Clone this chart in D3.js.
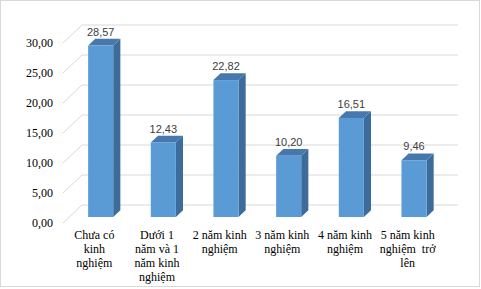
<!DOCTYPE html>
<html>
<head>
<meta charset="utf-8">
<script src="https://cdn.jsdelivr.net/npm/d3@7"></script>
<style>
  body { margin: 0; background: #fff; }
  svg { display: block; }
  .serif { font-family: "Liberation Serif", "Times New Roman", serif; font-size: 12px; fill: #000; }
  .sans { font-family: "Liberation Sans", Arial, sans-serif; font-size: 11px; fill: #404040; }
</style>
</head>
<body>
<script>
'use strict'

// data
let categories = [
  ["Chưa có", "kinh", "nghiệm"],
  ["Dưới 1", "năm và 1", "năm kinh", "nghiệm"],
  ["2 năm kinh", "nghiệm"],
  ["3 năm kinh", "nghiệm"],
  ["4 năm kinh", "nghiệm"],
  ["5 năm kinh", "nghiệm  trở", "lên"]
]
let values = [28.57, 12.43, 22.82, 10.20, 16.51, 9.46]
let yTicks = [0, 5, 10, 15, 20, 25, 30]

let width = 481, height = 289
// depth of the 3d box (back wall offset)
let depthX = 19, depthY = -18
let barFront = 1/3, barBack = 0.71

let svg = d3.select("body").append("svg")
  .attr("width", width)
  .attr("height", height)

svg.append("rect")
  .attr("x", 0.5).attr("y", 0.5)
  .attr("width", width - 2).attr("height", height - 3)
  .attr("fill", "#fff")
  .attr("stroke", "#d9d9d9")

let x = d3.scaleBand()
  .domain(d3.range(values.length))
  .range([63, 439])
  .paddingInner(0.6)
  .paddingOuter(0.3)

let y = d3.scaleLinear()
  .domain([0, 30])
  .range([223, 43])

function px(xv, d) { return xv + depthX * d }
function py(v, d) { return y(v) + depthY * d }

let fmt = v => d3.format(".2f")(v).replace(".", ",")

// back wall grid lines
svg.append("g").selectAll("line")
  .data(yTicks)
  .enter().append("line")
  .attr("x1", px(63, 1)).attr("x2", px(439, 1))
  .attr("y1", d => py(d, 1)).attr("y2", d => py(d, 1))
  .attr("stroke", "#d9d9d9")

// side wall lines
svg.append("g").selectAll("line")
  .data(yTicks)
  .enter().append("line")
  .attr("x1", 63).attr("x2", px(63, 1))
  .attr("y1", d => y(d)).attr("y2", d => py(d, 1))
  .attr("stroke", "#d9d9d9")

// y axis labels
let yAxis = d3.axisLeft(y)
  .tickValues(yTicks)
  .tickSize(0)
  .tickPadding(3)
  .tickFormat(fmt)

let gy = svg.append("g")
  .attr("transform", "translate(56,0)")
  .call(yAxis)
  .attr("font-family", null)
  .attr("font-size", null)
gy.select(".domain").remove()
gy.selectAll("text").attr("class", "serif").attr("fill", null)

// bars
let bars = svg.append("g").selectAll("g")
  .data(values)
  .enter().append("g")

bars.append("path")   // side
  .attr("fill", "#3d6c9b")
  .attr("d", (d, i) => {
    let xr = x(i) + x.bandwidth()
    return "M" + px(xr, barFront) + "," + py(d, barFront) +
      "L" + px(xr, barBack) + "," + py(d, barBack) +
      "L" + px(xr, barBack) + "," + py(0, barBack) +
      "L" + px(xr, barFront) + "," + py(0, barFront) + "Z"
  })

bars.append("path")   // top
  .attr("fill", "#4678ad")
  .attr("d", (d, i) => {
    let xl = x(i), xr = x(i) + x.bandwidth()
    return "M" + px(xl, barFront) + "," + py(d, barFront) +
      "L" + px(xl, barBack) + "," + py(d, barBack) +
      "L" + px(xr, barBack) + "," + py(d, barBack) +
      "L" + px(xr, barFront) + "," + py(d, barFront) + "Z"
  })

bars.append("rect")   // front
  .attr("fill", "#5b9bd5")
  .attr("x", (d, i) => px(x(i), barFront))
  .attr("y", d => py(d, barFront))
  .attr("width", x.bandwidth())
  .attr("height", d => py(0, barFront) - py(d, barFront))

// value labels
svg.append("g").selectAll("text")
  .data(values)
  .enter().append("text")
  .attr("class", "sans")
  .attr("x", (d, i) => px(x(i) + x.bandwidth() / 2, barFront))
  .attr("y", d => py(d, barBack) - 3)
  .attr("text-anchor", "middle")
  .text(fmt)

// category labels
let cats = svg.append("g").selectAll("text")
  .data(categories)
  .enter().append("text")
  .attr("class", "serif")
  .attr("text-anchor", "middle")
  .style("white-space", "pre")

cats.selectAll("tspan")
  .data((d, i) => d.map(s => [s, i]))
  .enter().append("tspan")
  .attr("x", d => x(d[1]) + x.bandwidth() / 2)
  .attr("y", (d, j) => 239 + j * 14)
  .text(d => d[0])
</script>
</body>
</html>
